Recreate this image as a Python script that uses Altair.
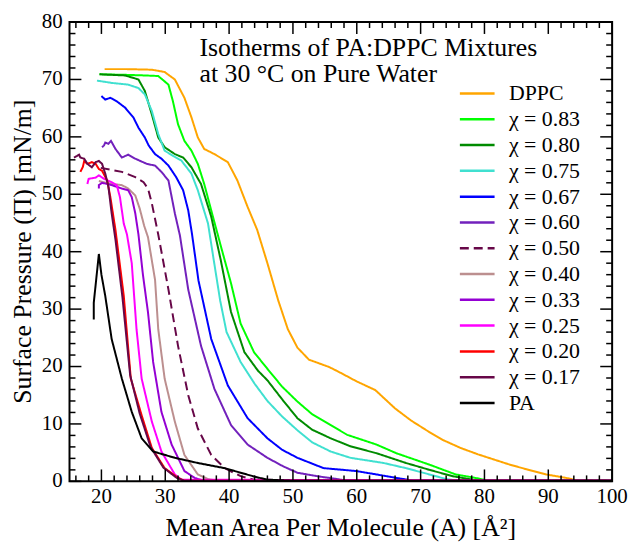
import altair as alt
import pandas as pd

SERIF = "Liberation Serif"

series_names = ["DPPC", "χ = 0.83", "χ = 0.80", "χ = 0.75", "χ = 0.67", "χ = 0.60",
                "χ = 0.50", "χ = 0.40", "χ = 0.33", "χ = 0.25", "χ = 0.20", "χ = 0.17", "PA"]
series_colors = ["#FFA500", "#00FF00", "#008B00", "#40E0D0", "#0000FF", "#7221BC",
                 "#670748", "#BC8F8F", "#9400D3", "#FF00FF", "#FF0000", "#670748", "#000000"]
series_dash = [[1, 0]] * 6 + [[9, 5]] + [[1, 0]] * 6

dppc_x = [20.5, 24, 27.9, 29.9, 31.5, 33.0, 34.1, 35.1, 36.1, 37.7, 39.8, 41.3, 42.9, 44.4, 46, 47.7,
          49.2, 50.7, 52.5, 55.7, 57.3, 60, 62.9, 66.0, 68.5, 71.2, 73.5, 76.3, 79, 81.5, 84, 86.6,
          89.7, 92.8, 94.5, 100]
dppc_y = [71.8, 71.8, 71.7, 71.3, 70.0, 66.8, 63.4, 59.9, 57.9, 57.0, 55.6, 52.4, 47.8, 43.8, 38, 31.5,
          26.5, 23.3, 21.2, 19.9, 19.0, 17.4, 15.9, 12.7, 10.6, 8.7, 7.2, 5.8, 4.7, 3.8, 2.9, 2.1,
          1.2, 0.6, 0.15, 0.1]

x83_x = [19.7, 24, 26.8, 28.9, 30.5, 31.2, 32.0, 33.0, 34.1, 35.1, 36.1, 37.2, 38.7, 40.3, 41.8, 43.9,
         46.0, 48.3, 50.7, 53, 55.9, 58.5, 63.1, 66.2, 71.4, 75.5, 78.6, 80.5, 100]
x83_y = [70.9, 70.8, 70.7, 70.6, 69.1, 66.2, 62.2, 59.3, 57.6, 55.3, 51.8, 47.2, 41.0, 34.5, 27.5, 22.5,
         19.6, 16.5, 13.9, 11.7, 9.8, 8.1, 6.4, 4.9, 2.9, 1.2, 0.6, 0.15, 0.1]

x80_x = [19.7, 23.7, 25.8, 26.8, 27.9, 28.9, 29.9, 31.5, 32.8, 34.1, 35.6, 37.2, 38.7, 40.3, 42.4, 44.5,
         46.0, 48.3, 50.7, 53, 55.9, 59.0, 63.1, 67.7, 71.4, 75.0, 77.6, 79, 100]
x80_y = [70.9, 70.7, 70.0, 68.0, 63.9, 59.9, 58.2, 57.0, 56.4, 54.7, 51.8, 46.1, 38.5, 29.5, 22.5, 19.3,
         17.6, 14.3, 11.0, 9.0, 7.5, 6.1, 4.9, 3.2, 2.0, 0.9, 0.4, 0.1, 0.1]

x75_x = [19.3, 21.6, 24.2, 25.8, 26.8, 27.9, 28.9, 29.9, 31.2, 32.5, 34.1, 35.1, 36.7, 37.6, 38.6, 39.6,
         41.8, 44, 46.0, 48.3, 50.7, 53, 55.9, 59.0, 64.2, 67.7, 71.4, 74.0, 76, 100]
x75_y = [69.8, 69.4, 69.1, 68.5, 67.4, 64.5, 60.5, 57.6, 56.7, 55.9, 53.6, 50.7, 44.9, 38.5, 31.5, 26.0,
         20.8, 17.0, 14.0, 11.3, 8.9, 6.8, 5.2, 4.1, 3.2, 2.3, 1.2, 0.4, 0.1, 0.1]

x67_x = [20.0, 20.6, 21.4, 22.4, 23.7, 25.0, 25.8, 26.8, 27.4, 28.4, 29.4, 30.5, 31.7, 32.8, 33.6, 34.2,
         35.2, 37.2, 39.8, 42.9, 46.0, 48.3, 50.7, 54.8, 59.9, 63.1, 66.2, 69, 100]
x67_y = [67.1, 66.5, 66.8, 66.2, 65.1, 63.4, 61.6, 59.9, 58.5, 57.0, 56.2, 55.0, 53.0, 50.7, 47.2, 43.0,
         35.0, 24.8, 16.7, 11.0, 7.5, 5.5, 4.1, 2.3, 1.8, 1.2, 0.6, 0.1, 0.1]

x60_x = [20.1, 20.4, 20.6, 21.1, 21.5, 22.2, 23.2, 24.2, 25.3, 27.1, 28.4, 29.4, 30.5, 31.5, 32.3, 33.6,
         35.6, 37.7, 40.3, 42.9, 46.0, 48.5, 50.7, 53.8, 56.9, 58.5, 100]
x60_y = [58.2, 58.5, 59.0, 58.8, 59.3, 57.9, 56.4, 56.9, 56.2, 55.3, 55.0, 53.9, 52.4, 46.7, 42.8, 33.4,
         23.6, 16.1, 9.8, 6.4, 4.1, 2.6, 1.5, 0.9, 0.4, 0.1, 0.1]

x50_x = [19.9, 23.2, 25.3, 26.6, 27.3, 27.9, 28.9, 30.5, 32.0, 33.6, 35.1, 37.2, 39.3, 41.8, 43.9, 46, 100]
x50_y = [54.6, 53.9, 53.0, 52.1, 51.0, 48.4, 43.0, 33.4, 23.6, 15.0, 9.2, 4.6, 2.3, 0.9, 0.3, 0.1, 0.1]

x40_x = [19.6, 21.6, 23.2, 24.2, 25.3, 26.0, 26.7, 27.3, 28.4, 28.9, 29.9, 31.5, 33.0, 35.1, 36.7, 38, 100]
x40_y = [52.3, 51.8, 51.6, 51.0, 49.8, 47.5, 44.5, 42.5, 35.1, 26.5, 17.9, 10.4, 4.6, 1.2, 0.4, 0.1, 0.1]

x33_x = [19.6, 19.6, 20.1, 21.6, 23.2, 24.2, 24.75, 25.3, 25.8, 26.5, 27.3, 28.1, 29.4, 31.0, 33.0, 34.6, 36, 100]
x33_y = [51.0, 51.6, 52.0, 51.6, 51.0, 50.7, 49.5, 46.7, 43.0, 36.0, 29.4, 20.8, 12.1, 6.4, 1.8, 0.6, 0.1, 0.1]

x25_x = [17.8, 18.0, 19.1, 19.6, 20.4, 21.6, 22.4, 22.9, 23.5, 24.0, 24.75, 25.5, 26.3, 27.9, 29.4, 31.5, 32.5, 100]
x25_y = [51.8, 52.7, 52.9, 53.3, 52.7, 52.1, 51.6, 49.5, 44.9, 43.0, 38.0, 26.5, 17.9, 10.4, 5.2, 1.2, 0.3, 0.1]

x20_x = [16.7, 17.1, 17.3, 17.8, 18.5, 19.1, 19.6, 20.1, 20.9, 21.4, 22.2, 23.5, 24.6, 26.3, 27.9, 29.9, 32.0, 33, 100]
x20_y = [53.9, 54.8, 55.8, 55.3, 55.6, 55.3, 54.4, 54.1, 52.4, 49.5, 43.8, 32.3, 17.9, 11.5, 5.8, 2.3, 0.6, 0.1, 0.1]

x17_x = [15.7, 16.2, 16.5, 16.7, 17.3, 17.8, 18.5, 19.1, 19.6, 20.1, 20.6, 21.1, 21.6, 22.2, 23.3, 24.5,
         26.0, 27.7, 29.7, 31.8, 33, 100]
x17_y = [56.4, 56.7, 56.9, 56.4, 56.2, 55.3, 54.7, 55.6, 55.8, 55.3, 53.6, 51.3, 46.7, 42.1, 32.0, 18.5,
         11.8, 6.0, 2.4, 0.6, 0.1, 0.1]

pa_x = [18.8, 18.8, 19.6, 20.0, 20.6, 21.6, 23.2, 24.75, 26.3, 28.1, 31.5, 35.1, 39.3, 41.8, 44.4, 46, 50, 100]
pa_y = [28.2, 31.1, 39.6, 36.0, 32.3, 24.8, 17.9, 12.1, 7.5, 5.2, 4.1, 3.2, 2.3, 1.5, 0.7, 0.3, 0.1, 0.1]

series_x = [dppc_x, x83_x, x80_x, x75_x, x67_x, x60_x, x50_x, x40_x, x33_x, x25_x, x20_x, x17_x, pa_x]
series_y = [dppc_y, x83_y, x80_y, x75_y, x67_y, x60_y, x50_y, x40_y, x33_y, x25_y, x20_y, x17_y, pa_y]

x_major = list(range(20, 101, 10))
y_major = list(range(0, 81, 10))
x_minor = [v for v in range(16, 100, 2) if v % 10 != 0]
y_minor = [v for v in range(2, 80, 2) if v % 10 != 0]

note_line1 = "Isotherms of PA:DPPC Mixtures"
note_line2 = "at 30 °C on Pure Water"
x_title = "Mean Area Per Molecule (A) [Å²]"
y_title = "Surface Pressure (Π) [mN/m]"

rows = []
for name, xs_, ys_ in zip(series_names, series_x, series_y):
    for i, (a, b) in enumerate(zip(xs_, ys_)):
        rows.append({"series": name, "x": a, "y": b, "idx": i})
df = pd.DataFrame(rows)

W, H = 547, 463
MAJ, MIN = 12, 6
xscale = alt.Scale(domain=[15, 100], nice=False, zero=False)
yscale = alt.Scale(domain=[0, 80], nice=False, zero=False)

legend_kw = dict(title=None, orient="none", legendX=400, legendY=61,
                 labelFont=SERIF, labelFontSize=22, labelColor="black",
                 symbolType="M-2,0H2", symbolSize=306, symbolStrokeWidth=2.5,
                 labelOffset=21, rowPadding=4, padding=0, labelLimit=300)

lines = alt.Chart(df).mark_line(strokeWidth=2, clip=True).encode(
    x=alt.X("x:Q", scale=xscale, axis=None),
    y=alt.Y("y:Q", scale=yscale, axis=None),
    color=alt.Color("series:N", scale=alt.Scale(domain=series_names, range=series_colors),
                    legend=alt.Legend(**legend_kw)),
    strokeDash=alt.StrokeDash("series:N", scale=alt.Scale(domain=series_names, range=series_dash),
                              legend=alt.Legend(**legend_kw)),
    order="idx:Q",
)


def xticks(values, length):
    d = pd.DataFrame({"v": values})
    bottom = alt.Chart(d).mark_rule(color="black", strokeWidth=1.5).encode(
        x=alt.X("v:Q", scale=xscale, axis=None), y=alt.value(H), y2=alt.value(H - length))
    top = alt.Chart(d).mark_rule(color="black", strokeWidth=1.5).encode(
        x=alt.X("v:Q", scale=xscale, axis=None), y=alt.value(0), y2=alt.value(length))
    return [bottom, top]


def yticks(values, length):
    d = pd.DataFrame({"v": values})
    left = alt.Chart(d).mark_rule(color="black", strokeWidth=1.5).encode(
        y=alt.Y("v:Q", scale=yscale, axis=None), x=alt.value(0), x2=alt.value(length))
    right = alt.Chart(d).mark_rule(color="black", strokeWidth=1.5).encode(
        y=alt.Y("v:Q", scale=yscale, axis=None), x=alt.value(W), x2=alt.value(W - length))
    return [left, right]


frame = alt.Chart(pd.DataFrame({"f": [0]})).mark_rect(
    fill="white", fillOpacity=0, stroke="black", strokeWidth=2
).encode(x=alt.value(0), x2=alt.value(W), y=alt.value(0), y2=alt.value(H))

# tick labels, placed through the same scales as the data
xlab = alt.Chart(pd.DataFrame({"v": x_major})).mark_text(
    font=SERIF, fontSize=21, color="black", align="center", baseline="alphabetic"
).encode(x=alt.X("v:Q", scale=xscale, axis=None), y=alt.value(H + 22), text=alt.Text("v:Q", format="d"))

ylab = alt.Chart(pd.DataFrame({"v": y_major})).mark_text(
    font=SERIF, fontSize=21, color="black", align="right", baseline="middle"
).encode(y=alt.Y("v:Q", scale=yscale, axis=None), x=alt.value(-7), text=alt.Text("v:Q", format="d"))

xtitle = alt.Chart(pd.DataFrame({"t": [x_title]})).mark_text(
    font=SERIF, fontSize=26, color="black", align="center", baseline="alphabetic"
).encode(x=alt.value(W / 2), y=alt.value(H + 55), text="t:N")

ytitle = alt.Chart(pd.DataFrame({"t": [y_title]})).mark_text(
    font=SERIF, fontSize=26, color="black", align="center", baseline="middle", angle=270
).encode(x=alt.value(-47), y=alt.value(H / 2), text="t:N")

note1 = alt.Chart(pd.DataFrame({"t": [note_line1]})).mark_text(
    align="left", baseline="alphabetic", font=SERIF, fontSize=26, color="black"
).encode(x=alt.value(131), y=alt.value(34), text="t:N")

note2 = alt.Chart(pd.DataFrame({"t": [note_line2]})).mark_text(
    align="left", baseline="alphabetic", font=SERIF, fontSize=26, color="black"
).encode(x=alt.value(131), y=alt.value(60), text="t:N")

layers = [lines] + xticks(x_major, MAJ) + xticks(x_minor, MIN) + yticks(y_major, MAJ) + \
    yticks(y_minor, MIN) + [frame, xlab, ylab, xtitle, ytitle, note1, note2]

chart = alt.layer(*layers).properties(
    width=W, height=H,
    padding={"left": 62, "top": 12, "right": 17, "bottom": 62},
    autosize=alt.AutoSizeParams(type="none"),
    background="white",
).configure(font=SERIF).configure_view(stroke=None)

chart.save("out.html", embed_options={"renderer": "svg", "actions": False})
